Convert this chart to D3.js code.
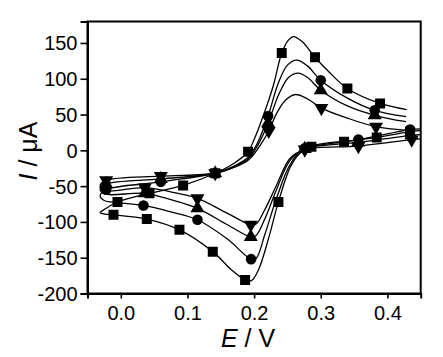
<!DOCTYPE html>
<html><head><meta charset="utf-8">
<script src="https://cdn.jsdelivr.net/npm/d3@7"></script>
<style>body{margin:0;background:#fff}svg{display:block}</style>
</head><body>
<script>
// ---- data (E in V, I in µA) ----
const xTicks = [0.0, 0.1, 0.2, 0.3, 0.4];
const yTicks = [-200, -150, -100, -50, 0, 50, 100, 150];

// curve traces: upper branch (right end -> left), hook, lower branch (left -> right end)
const squareLine = [[0.429,57],[0.389,65.6],[0.340,86.5],[0.314,108],[0.2914,130],[0.272,152],[0.259,159],[0.2515,154],[0.2415,136],[0.229,91],[0.214,49],[0.200,15],[0.191,-2],[0.170,-18],[0.1416,-32],[0.0935,-49],[0.043,-60],[-0.005,-72],[-0.022,-81],[-0.031,-87],[-0.024,-89],[-0.011,-90],[0.039,-96],[0.088,-111],[0.138,-141.5],[0.165,-166],[0.1865,-181],[0.196,-182],[0.207,-166],[0.222,-122],[0.2365,-72],[0.255,-22],[0.27,-3],[0.286,5],[0.335,12],[0.384,18],[0.434,26],[0.45,28]];
const circleLine = [[0.428,47],[0.381,56],[0.340,73],[0.300,98],[0.280,118],[0.264,126],[0.250,119],[0.236,93],[0.221,48],[0.206,12],[0.192,-9],[0.170,-22],[0.1416,-32],[0.060,-44],[-0.022,-55],[-0.031,-63],[-0.025,-70],[-0.005,-73],[0.034,-77],[0.075,-86],[0.115,-97],[0.160,-124],[0.1955,-152],[0.203,-151],[0.216,-118],[0.234,-66],[0.254,-20],[0.276,3],[0.3565,15],[0.434,29],[0.45,30]];
const upLine = [[0.428,40],[0.381,49],[0.340,62],[0.300,84],[0.280,102],[0.266,108],[0.252,102],[0.237,78],[0.221,38],[0.206,8],[0.192,-11],[0.170,-23],[0.1416,-32],[0.060,-40],[-0.022,-47],[-0.031,-54],[-0.024,-61],[0.036,-60],[0.075,-69],[0.115,-81],[0.160,-104],[0.195,-121],[0.203,-119],[0.216,-96],[0.234,-54],[0.254,-14],[0.276,2],[0.356,11],[0.436,21],[0.45,22]];
const downLine = [[0.428,28],[0.383,33],[0.340,45],[0.301,59],[0.280,72],[0.262,78],[0.247,70],[0.234,52],[0.222,27],[0.207,4],[0.192,-13],[0.170,-24],[0.1416,-32],[0.060,-36],[-0.022,-42],[-0.031,-49],[-0.024,-56],[0.036,-52],[0.075,-58],[0.115,-67],[0.160,-88],[0.195,-104],[0.203,-103],[0.216,-83],[0.234,-48],[0.254,-11],[0.276,1],[0.3565,6],[0.4365,15],[0.45,16]];

// marker positions
const squareMarks = [[0.389,65.6],[0.340,86.5],[0.2914,130],[0.2415,136],[0.191,-2],[0.1416,-32],[0.0935,-49],[0.043,-60],[-0.005,-72],[-0.011,-90],[0.039,-96],[0.088,-111],[0.138,-141.5],[0.1865,-181],[0.2365,-72],[0.286,5],[0.335,12],[0.384,18],[0.434,26]];
const circleMarks = [[0.381,56],[0.300,98],[0.221,48],[0.1416,-32],[0.060,-44],[-0.022,-55],[0.034,-77],[0.115,-97],[0.1955,-152],[0.276,3],[0.3565,15],[0.434,29]];
const upMarks = [[0.381,49],[0.300,84],[0.221,38],[0.1416,-32],[0.060,-40],[-0.022,-47],[0.036,-60],[0.115,-81],[0.195,-121],[0.276,2],[0.356,11],[0.436,21]];
const downMarks = [[0.383,33],[0.301,59],[0.222,27],[0.1416,-32],[0.060,-36],[-0.022,-42],[0.036,-52],[0.115,-67],[0.195,-104],[0.276,1],[0.3565,6],[0.4365,15]];

const series = [
  {line: squareLine, marks: squareMarks, sym: d3.symbolSquare, size: 100, rot: 0},
  {line: circleLine, marks: circleMarks, sym: d3.symbolCircle, size: 88, rot: 0},
  {line: upLine, marks: upMarks, sym: d3.symbolTriangle, size: 85, rot: 0},
  {line: downLine, marks: downMarks, sym: d3.symbolTriangle, size: 85, rot: 180}
];

// ---- layout ----
const W = 443, H = 357;
const L = 87.5, R = 420.7, T = 21.5, B = 293.5;
const x = d3.scaleLinear().domain([-0.05, 0.45]).range([L, R]);
const y = d3.scaleLinear().domain([-200, 180]).range([B, T]);

const svg = d3.select("body").append("svg").attr("width", W).attr("height", H);
const font = "'Liberation Sans', Arial, sans-serif";

const plot = svg.append("g");
plot.append("clipPath").attr("id","clip").append("rect")
  .attr("x", L).attr("y", T).attr("width", R-L).attr("height", B-T);

const line = d3.line().x(d => x(d[0])).y(d => y(d[1])).curve(d3.curveCatmullRom.alpha(0.5));
const g = plot.append("g").attr("clip-path","url(#clip)");
series.forEach(s => {
  g.append("path").attr("d", line(s.line)).attr("fill","none")
    .attr("stroke","#000").attr("stroke-width",1.3);
});
series.forEach(s => {
  g.selectAll(null).data(s.marks).enter().append("path")
    .attr("d", d3.symbol().type(s.sym).size(s.size))
    .attr("transform", d => `translate(${x(d[0])},${y(d[1])}) rotate(${s.rot})`)
    .attr("fill","#000");
});

// frame
svg.append("rect").attr("x", L).attr("y", T).attr("width", R-L).attr("height", B-T)
  .attr("fill","none").attr("stroke","#000").attr("stroke-width",2);

// axes
const xAxis = svg.append("g").attr("transform",`translate(0,${B})`)
  .call(d3.axisBottom(x).tickValues(xTicks).tickFormat(d => d.toFixed(1)).tickSize(5).tickPadding(7));
const yAxis = svg.append("g").attr("transform",`translate(${L},0)`)
  .call(d3.axisLeft(y).tickValues(yTicks).tickFormat(d => String(d)).tickSize(7).tickPadding(3));
[xAxis, yAxis].forEach(a => {
  a.select(".domain").attr("stroke-width",2);
  a.selectAll(".tick line").attr("stroke-width",1.6);
  a.selectAll(".tick text").attr("font-family", font).attr("font-size", 20).attr("fill","#000");
});
yAxis.selectAll(".tick text").attr("dy","0.35em");

// axis titles
const xt = svg.append("text").attr("x", 248).attr("y", 347).attr("text-anchor","middle")
  .attr("font-family", font).attr("font-size", 25);
xt.append("tspan").attr("font-style","italic").text("E");
xt.append("tspan").text(" / V");

const yt = svg.append("text").attr("transform","translate(37,151) rotate(-90)").attr("text-anchor","middle")
  .attr("font-family", font).attr("font-size", 25);
yt.append("tspan").attr("font-style","italic").text("I");
yt.append("tspan").text(" / μA");
</script>
</body></html>
